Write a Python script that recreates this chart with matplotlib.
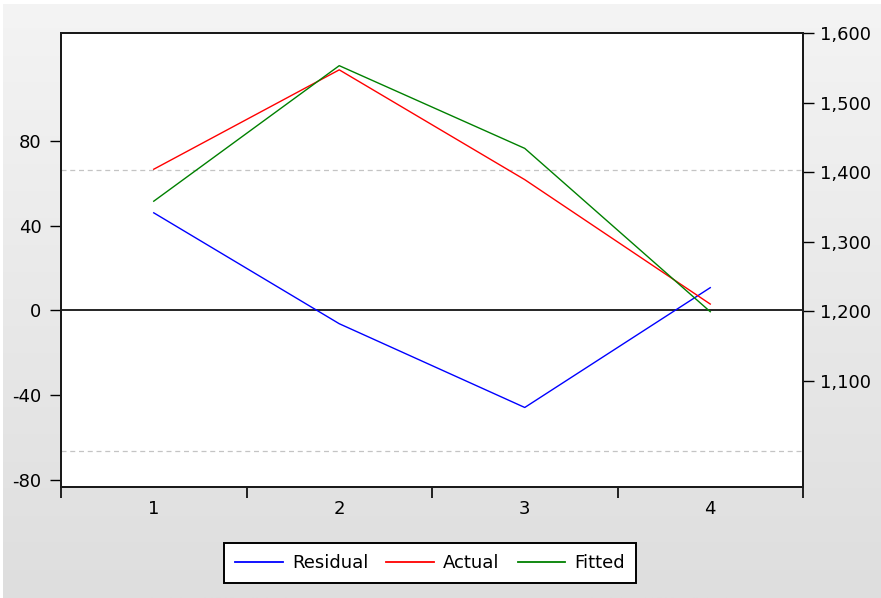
import numpy as np
import matplotlib
matplotlib.use("Agg")
import matplotlib.pyplot as plt
from matplotlib.lines import Line2D
from matplotlib.ticker import FuncFormatter

# ---- data ----
obs = [1, 2, 3, 4]
residual = [46.0, -6.3, -45.8, 10.7]
actual = [1404, 1547, 1389, 1210]
fitted = [1358, 1553, 1434, 1199]
se_band = 66.4
left_ticks = [-80, -40, 0, 40, 80]
right_ticks = [1100, 1200, 1300, 1400, 1500, 1600]
x_labels = ["1", "2", "3", "4"]

plt.rcParams['font.family'] = ['DejaVu Sans']
FS = 13

W, H = 881, 598
fig = plt.figure(figsize=(W / 100, H / 100), dpi=100)

# background gradient
bg = fig.add_axes([0, 0, 1, 1])
bg.set_axis_off()
grad = np.linspace(0, 1, 256).reshape(-1, 1)
top = np.array([0xf4, 0xf4, 0xf4]) / 255
bot = np.array([0xde, 0xde, 0xde]) / 255
img = top + (bot - top) * grad[..., None]
img = np.repeat(img, 2, axis=1)
bg.imshow(img, aspect='auto', extent=[0, 1, 0, 1], origin='upper')
bg.set_xlim(0, 1)
bg.set_ylim(0, 1)
bg.axhspan(1 - 4 / H, 1, color='white', lw=0)
bg.axvspan(0, 3 / W, color='white', lw=0)

L, R, T, B = 61, 803, 33, 487
ax = fig.add_axes([L / W, 1 - B / H, (R - L) / W, (B - T) / H])
ax.set_facecolor('white')

ax.set_xlim(0.5, 4.5)
ax.set_ylim(-83.3, 130.8)

ax.axhline(0, color='black', lw=1.2, zorder=2)
for v in (se_band, -se_band):
    ax.axhline(v, color='#c4c4c4', lw=0.9, ls=(0, (4, 3)), zorder=1)

ax.plot(obs, residual, color='#0000ff', lw=1.0, zorder=3)

ax2 = ax.twinx()
ax2.set_ylim(946.8, 1600)
ax2.plot(obs, actual, color='#ff0000', lw=1.0, zorder=3)
ax2.plot(obs, fitted, color='#008000', lw=1.0, zorder=3)

# ticks
ax.set_yticks(left_ticks)
ax.set_yticklabels([str(v) for v in left_ticks])
ax.tick_params(axis='y', direction='out', length=8, width=1, pad=6, labelsize=FS, colors='black')
ax.set_xticks([0.5, 1.5, 2.5, 3.5, 4.5])
ax.set_xticklabels([])
ax.tick_params(axis='x', which='major', direction='out', length=8, width=1.2)
ax.set_xticks(obs, minor=True)
ax.set_xticklabels(x_labels, minor=True)
ax.tick_params(axis='x', which='minor', length=0, pad=9, labelsize=FS)

ax2.set_yticks(right_ticks)
ax2.yaxis.set_major_formatter(FuncFormatter(lambda v, p: f"{int(v):,}"))
ax2.tick_params(axis='y', direction='out', length=8, width=1, pad=4, labelsize=FS)

for a in (ax, ax2):
    for s in a.spines.values():
        s.set_linewidth(1.4)
        s.set_color('#1a1a1a')

handles = [Line2D([], [], color='#0000ff', lw=1.3),
           Line2D([], [], color='#ff0000', lw=1.3),
           Line2D([], [], color='#008000', lw=1.3)]
leg = fig.legend(handles, ['Residual', 'Actual', 'Fitted'], loc='center',
                 bbox_to_anchor=(430 / W, 1 - 563 / H), ncol=3, fontsize=FS,
                 handlelength=2.65, handletextpad=0.5, columnspacing=1.0,
                 fancybox=False, framealpha=1, edgecolor='black',
                 borderpad=0.6, borderaxespad=0)
leg.get_frame().set_linewidth(1.4)

fig.savefig('out.png', dpi=100)
